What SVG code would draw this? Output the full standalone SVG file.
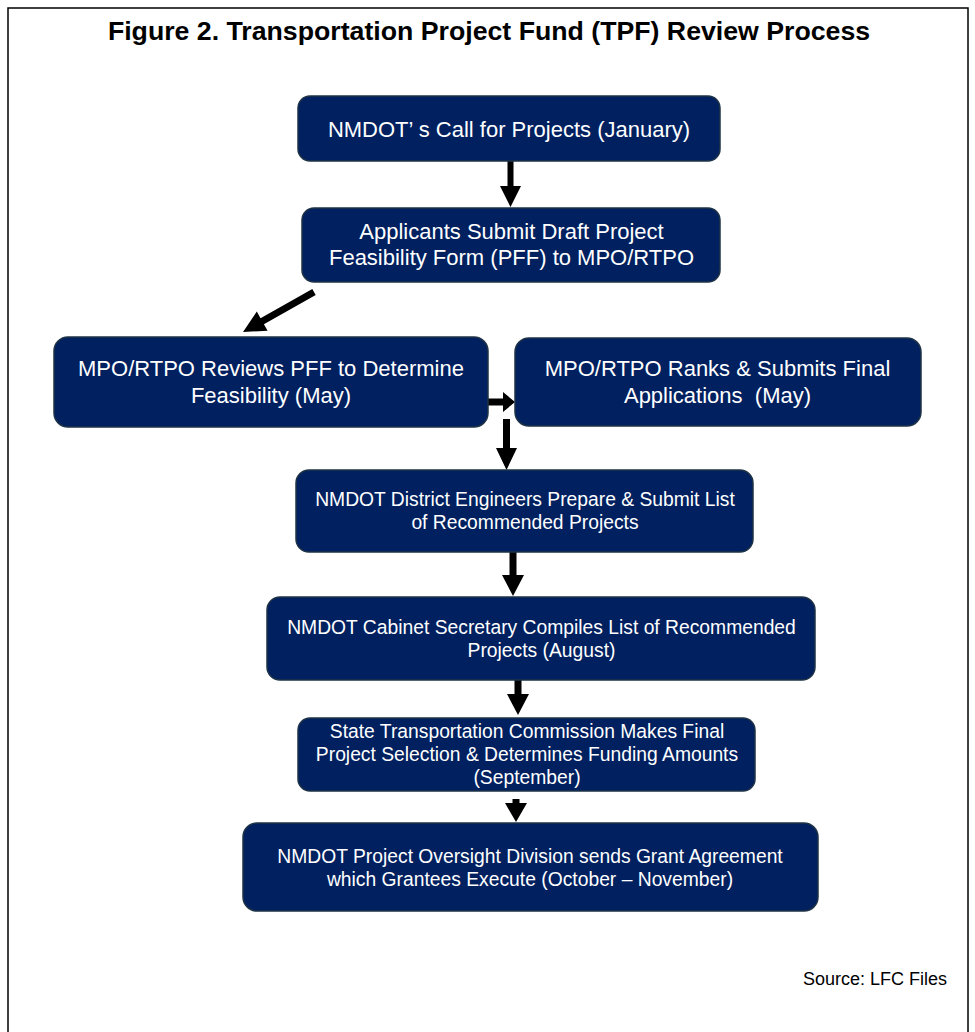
<svg xmlns="http://www.w3.org/2000/svg" width="975" height="1032" viewBox="0 0 975 1032">
  <style>
    .box { fill: #002060; stroke: #1e3346; stroke-width: 1.5; }
    .t22 { font-family: "Liberation Sans", Arial, sans-serif; font-size: 22px; fill: #ffffff; text-anchor: middle; }
    .t19 { font-family: "Liberation Sans", Arial, sans-serif; font-size: 19.3px; fill: #ffffff; text-anchor: middle; }
    .title { font-family: "Liberation Sans", Arial, sans-serif; font-size: 26.7px; font-weight: bold; fill: #000000; text-anchor: middle; }
    .src { font-family: "Liberation Sans", Arial, sans-serif; font-size: 18px; fill: #000000; text-anchor: end; }
    .arrow { fill: #000000; stroke: none; }
  </style>
  <rect x="0" y="0" width="975" height="1032" fill="#ffffff"/>
  <rect x="8" y="8" width="960" height="1040" fill="none" stroke="#000000" stroke-width="1.5"/>
  <text class="title" x="489" y="40">Figure 2. Transportation Project Fund (TPF) Review Process</text>

  <g id="connectors">
    <path class="arrow" d="M507.5,161 H513.5 V186 H521 L510.5,207 L500,186 H507.5 Z"/>
    <path class="arrow" d="M312.3,289 L260.5,318.2 L256.8,311.6 L243,332 L267.6,330.8 L263.9,324.2 L315.7,295 Z"/>
    <path class="arrow" d="M488,398.5 H503 V392 L515,402 L503,412 V405.5 H488 Z"/>
    <path class="arrow" d="M503,419 H510 V448 H517 L506.5,470 L496,448 H503 Z"/>
    <path class="arrow" d="M509.5,552 H516.5 V575 H524 L513,596 L502,575 H509.5 Z"/>
    <path class="arrow" d="M514.5,680 H521.5 V694 H529 L518,715 L507,694 H514.5 Z"/>
    <path class="arrow" d="M512.5,799 H519.5 V803 H527 L516,822 L505,803 H512.5 Z"/>
  </g>

  <g id="node-call">
    <rect class="box" x="298" y="96" width="422" height="65" rx="12"/>
    <text class="t22" x="509" y="137">NMDOT’ s Call for Projects (January)</text>
  </g>
  <g id="node-submit-draft">
    <rect class="box" x="302" y="208" width="418" height="74" rx="12"/>
    <text class="t22" x="511.5" y="239">Applicants Submit Draft Project</text>
    <text class="t22" x="511.5" y="265">Feasibility Form (PFF) to MPO/RTPO</text>
  </g>
  <g id="node-review">
    <rect class="box" x="54" y="337" width="434" height="90" rx="14"/>
    <text class="t22" x="271" y="376">MPO/RTPO Reviews PFF to Determine</text>
    <text class="t22" x="271" y="403">Feasibility (May)</text>
  </g>
  <g id="node-rank">
    <rect class="box" x="515" y="338" width="406" height="88" rx="14"/>
    <text class="t22" x="717.5" y="376">MPO/RTPO Ranks &amp; Submits Final</text>
    <text class="t22" x="717.5" y="403" xml:space="preserve">Applications  (May)</text>
  </g>
  <g id="node-district">
    <rect class="box" x="296" y="470" width="457" height="82" rx="13"/>
    <text class="t19" x="525" y="506">NMDOT District Engineers Prepare &amp; Submit List</text>
    <text class="t19" x="525" y="529">of Recommended Projects</text>
  </g>
  <g id="node-cabinet">
    <rect class="box" x="267" y="597" width="548" height="83" rx="13"/>
    <text class="t19" x="541.5" y="634">NMDOT Cabinet Secretary Compiles List of Recommended</text>
    <text class="t19" x="541.5" y="657">Projects (August)</text>
  </g>
  <g id="node-commission">
    <rect class="box" x="298" y="718" width="457" height="73" rx="12"/>
    <text class="t19" x="527" y="738">State Transportation Commission Makes Final</text>
    <text class="t19" x="527" y="761">Project Selection &amp; Determines Funding Amounts</text>
    <text class="t19" x="527" y="784">(September)</text>
  </g>
  <g id="node-grant">
    <rect class="box" x="243" y="823" width="575" height="88" rx="14"/>
    <text class="t19" x="530" y="863">NMDOT Project Oversight Division sends Grant Agreement</text>
    <text class="t19" x="530" y="886">which Grantees Execute (October – November)</text>
  </g>

  <text class="src" x="947" y="985">Source: LFC Files</text>
</svg>
